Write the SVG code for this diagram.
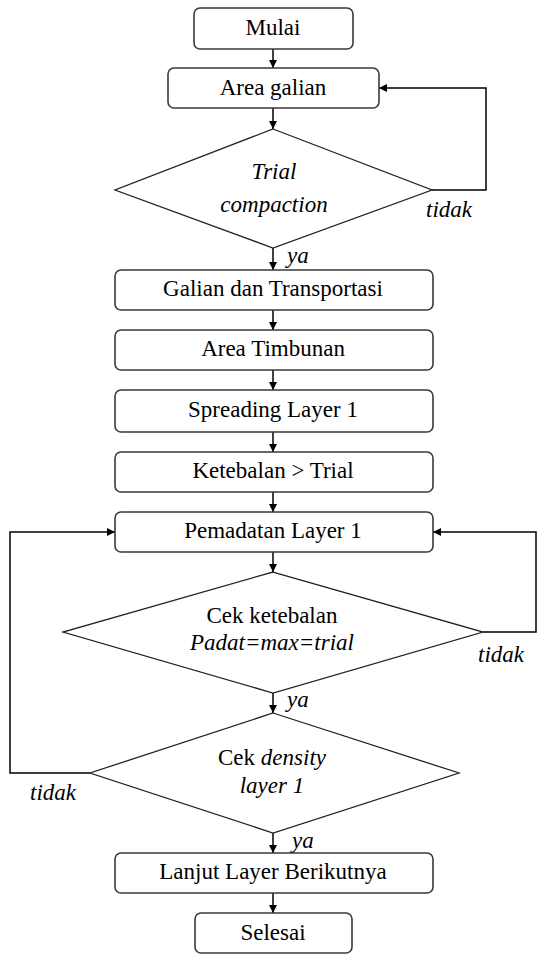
<svg xmlns="http://www.w3.org/2000/svg" width="537" height="954" viewBox="0 0 537 954" font-family="'Liberation Serif', 'Times New Roman', serif">
<defs>
<marker id="ah" viewBox="0 0 10 10" refX="10" refY="5" markerWidth="9" markerHeight="8" markerUnits="userSpaceOnUse" orient="auto">
<path d="M0,0 L10,5 L0,10 z" fill="#000"/>
</marker>
<style>
.box{fill:#fff;stroke:#3a3a3a;stroke-width:1.6}
.dia{fill:#fff;stroke:#222;stroke-width:1.3}
.t{font-family:'Liberation Serif','Times New Roman',serif;font-size:23px;fill:#000;text-anchor:middle}
.i{font-style:italic}
.lab{font-family:'Liberation Serif','Times New Roman',serif;font-size:23px;font-style:italic;fill:#000}
.ca{fill:none;stroke:#000;stroke-width:1.5;marker-end:url(#ah)}
</style>
</defs>
<rect width="537" height="954" fill="#fff"/>
<g id="connectors">
<line class="ca" x1="273" y1="49" x2="273" y2="68"/>
<line class="ca" x1="273" y1="108" x2="273" y2="129"/>
<polyline class="ca" points="432,190 486,190 486,88 379,88"/>
<line class="ca" x1="273" y1="248" x2="273" y2="270"/>
<line class="ca" x1="273" y1="310" x2="273" y2="330"/>
<line class="ca" x1="273" y1="370" x2="273" y2="390"/>
<line class="ca" x1="273" y1="432" x2="273" y2="452"/>
<line class="ca" x1="273" y1="492" x2="273" y2="512"/>
<line class="ca" x1="273" y1="552" x2="273" y2="572"/>
<polyline class="ca" points="483,632 536,632 536,532 433,532"/>
<line class="ca" x1="273" y1="693" x2="273" y2="713"/>
<polyline class="ca" points="90,773 10,773 10,532 115,532"/>
<line class="ca" x1="273" y1="833" x2="273" y2="853"/>
<line class="ca" x1="273" y1="893" x2="273" y2="913"/>
<text class="lab" x="426" y="217">tidak</text>
<text class="lab" x="287" y="263">ya</text>
<text class="lab" x="478" y="662">tidak</text>
<text class="lab" x="287" y="707">ya</text>
<text class="lab" x="30" y="800">tidak</text>
<text class="lab" x="292" y="848">ya</text>
</g>
<g id="mulai">
<rect class="box" x="194" y="8" width="159" height="41" rx="6"/>
<text class="t" x="273" y="35">Mulai</text>
</g>
<g id="area-galian">
<rect class="box" x="168" y="68" width="211" height="40" rx="6"/>
<text class="t" x="273" y="95">Area galian</text>
</g>
<g id="trial-compaction">
<polygon class="dia" points="273,129 432,190 273,248 115,190"/>
<text class="t i" x="274" y="179">Trial</text>
<text class="t i" x="274" y="212">compaction</text>
</g>
<g id="galian-transportasi">
<rect class="box" x="115" y="270" width="318" height="40" rx="6"/>
<text class="t" x="273" y="296">Galian dan Transportasi</text>
</g>
<g id="area-timbunan">
<rect class="box" x="115" y="330" width="318" height="40" rx="6"/>
<text class="t" x="273" y="356">Area Timbunan</text>
</g>
<g id="spreading">
<rect class="box" x="115" y="390" width="318" height="42" rx="6"/>
<text class="t" x="273" y="417">Spreading Layer 1</text>
</g>
<g id="ketebalan">
<rect class="box" x="115" y="452" width="318" height="40" rx="6"/>
<text class="t" x="273" y="478">Ketebalan &gt; Trial</text>
</g>
<g id="pemadatan">
<rect class="box" x="115" y="512" width="318" height="40" rx="6"/>
<text class="t" x="273" y="538">Pemadatan Layer 1</text>
</g>
<g id="cek-ketebalan">
<polygon class="dia" points="273,572 483,632 273,693 63,632"/>
<text class="t" x="272" y="623">Cek ketebalan</text>
<text class="t i" x="272" y="650">Padat=max=trial</text>
</g>
<g id="cek-density">
<polygon class="dia" points="273,713 459,773 273,833 90,773"/>
<text class="t" x="272" y="765">Cek <tspan class="i">density</tspan></text>
<text class="t i" x="272" y="793">layer 1</text>
</g>
<g id="lanjut">
<rect class="box" x="115" y="853" width="318" height="40" rx="6"/>
<text class="t" x="273" y="879">Lanjut Layer Berikutnya</text>
</g>
<g id="selesai">
<rect class="box" x="195" y="913" width="157" height="40" rx="6"/>
<text class="t" x="273" y="940">Selesai</text>
</g>
</svg>
